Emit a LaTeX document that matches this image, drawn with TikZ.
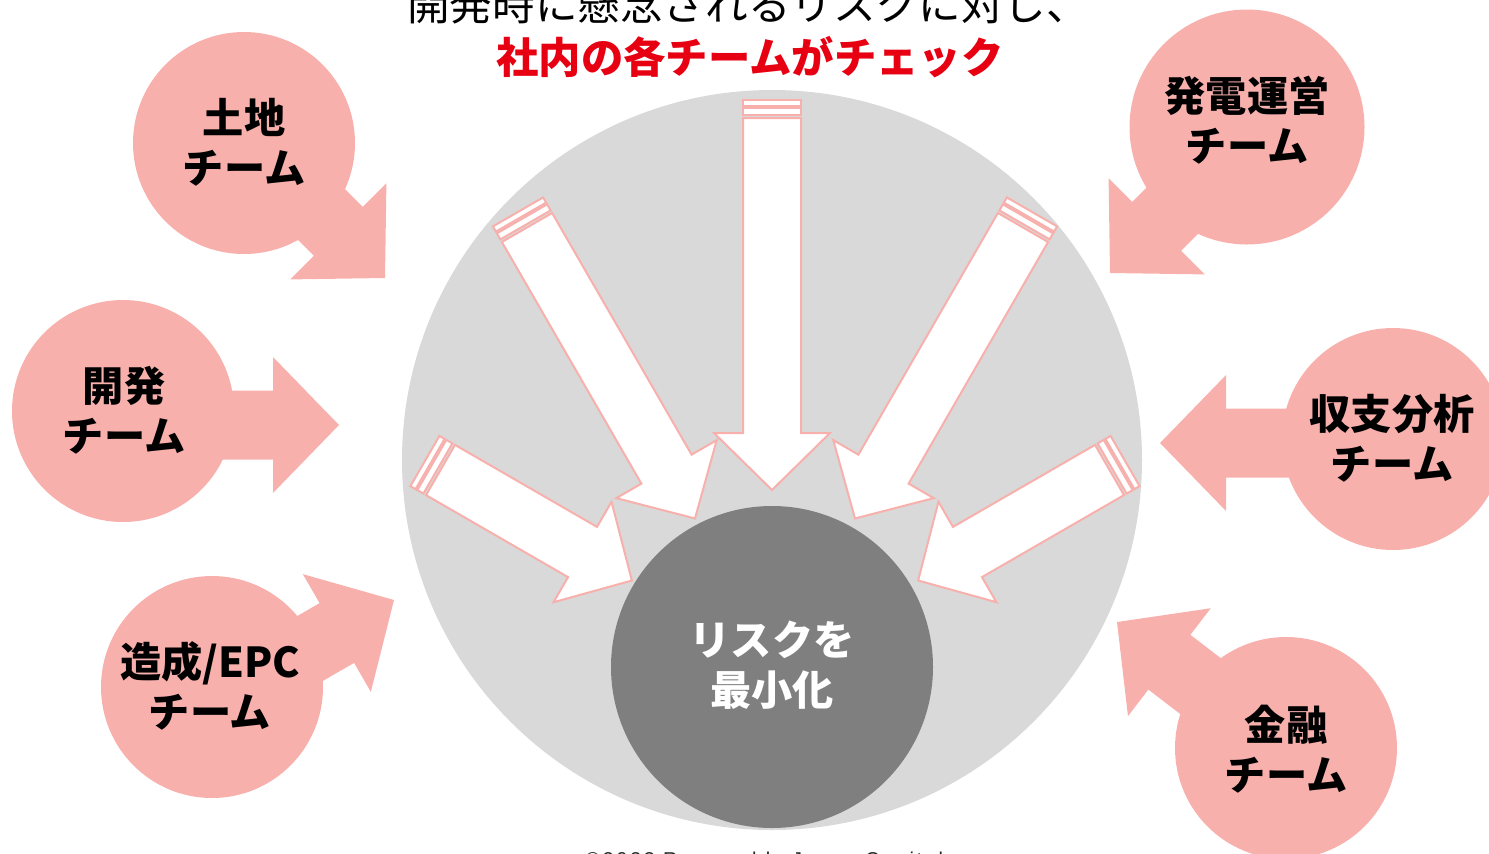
\documentclass[tikz,border=0pt]{standalone}
\usepackage{fontspec}
\newfontfamily\jp{Noto Sans CJK JP}
\newfontfamily\lat{Liberation Sans}
\definecolor{pinkc}{HTML}{F8B0AD}
\definecolor{lgrey}{HTML}{D9D9D9}
\definecolor{dgrey}{HTML}{7F7F7F}
\definecolor{titlered}{HTML}{E60012}
\tikzset{
 pinkcircle/.style={circle,fill=pinkc,draw=none,inner sep=0pt},
 stripe/.style={draw=pinkc,line width=1pt,fill=white,line join=miter},
 teamtext/.style={align=center,font=\jp\bfseries\fontsize{20.6pt}{25pt}\selectfont,text=black,inner sep=0pt},
}
\newcommand\stripedarrow[4]{%
 \begin{scope}[shift={(#1,#2)},rotate=#3]
  \draw[stripe] (-12,-29) rectangle (-18,29);
  \draw[stripe] (-3,-29) rectangle (-10,29);
  \draw[stripe] (0,-29) -- ({#4-57},-29) -- ({#4-57},-58) -- (#4,0) -- ({#4-57},58) -- ({#4-57},29) -- (0,29) -- cycle;
 \end{scope}}
\newcommand\pinkarrow[4]{%
 \begin{scope}[shift={(#1,#2)},rotate=#3]
  \fill[pinkc] (0,0) -- (-66,68) -- (-66,34.5) -- (-#4,34.5) -- (-#4,-34.5) -- (-66,-34.5) -- (-66,-68) -- cycle;
 \end{scope}}
\begin{document}
\begin{tikzpicture}[x=0.5pt,y=-0.5pt]
\useasboundingbox (0,0) rectangle (1489,853);
\clip (0,0) rectangle (1489,853);
% big field
\node[circle,fill=lgrey,minimum size=370pt,inner sep=0pt] (field) at (772,460) {};
% pink arrows
\pinkarrow{385}{278}{-45}{150}
\pinkarrow{339}{425}{0}{180}
\pinkarrow{394}{600}{30}{150}
\pinkarrow{1110}{273}{-135}{160}
\pinkarrow{1160}{443}{180}{200}
\pinkarrow{1117}{622}{142.5}{160}
% pink circles
\node[pinkcircle,minimum size=111pt] (c-tochi) at (244,143) {};
\node[pinkcircle,minimum size=111pt] (c-kaihatsu) at (123,411) {};
\node[pinkcircle,minimum size=111pt] (c-epc) at (212,687) {};
\node[pinkcircle,minimum size=117.5pt] (c-unei) at (1247,127) {};
\node[pinkcircle,minimum size=111pt] (c-shushi) at (1393,439) {};
\node[pinkcircle,minimum size=111pt] (c-kinyu) at (1286,748) {};
% core
\node[circle,fill=dgrey,minimum size=161pt,inner sep=0pt] (core) at (772,667) {};
% striped arrows
\stripedarrow{772}{118}{-90}{372}
\stripedarrow{527}{227.5}{-60}{336}
\stripedarrow{440.5}{470}{-30}{221}
\stripedarrow{1023}{227.5}{-120}{336}
\stripedarrow{1109.5}{470}{-150}{221}
% texts
\node[teamtext] (t-tochi) at (244,142) {土地\\チーム};
\node[teamtext] (t-kaihatsu) at (124,410) {開発\\チーム};
\node[teamtext] (t-epc) at (210,686) {造成/EPC\\チーム};
\node[teamtext] (t-unei) at (1247,120) {発電運営\\チーム};
\node[teamtext] (t-shushi) at (1392,438) {収支分析\\チーム};
\node[teamtext] (t-kinyu) at (1286,749) {金融\\チーム};
\node[teamtext,text=white] (t-core) at (772,665) {リスクを\\最小化};
\node[font=\jp\fontsize{21.3pt}{25pt}\selectfont,anchor=base,inner sep=0pt] (title1) at (748,20) {開発時に懸念されるリスクに対し、};
\node[font=\jp\bfseries\fontsize{21.2pt}{25pt}\selectfont,text=titlered,inner sep=0pt] (title2) at (750,57) {社内の各チームがチェック};
\node[font=\lat\fontsize{10pt}{12pt}\selectfont\addfontfeature{LetterSpace=13},anchor=base west,inner sep=0pt,text=black!85] (copy) at (585,866) {©2023 Renewable Japan Capital};
\end{tikzpicture}
\end{document}
